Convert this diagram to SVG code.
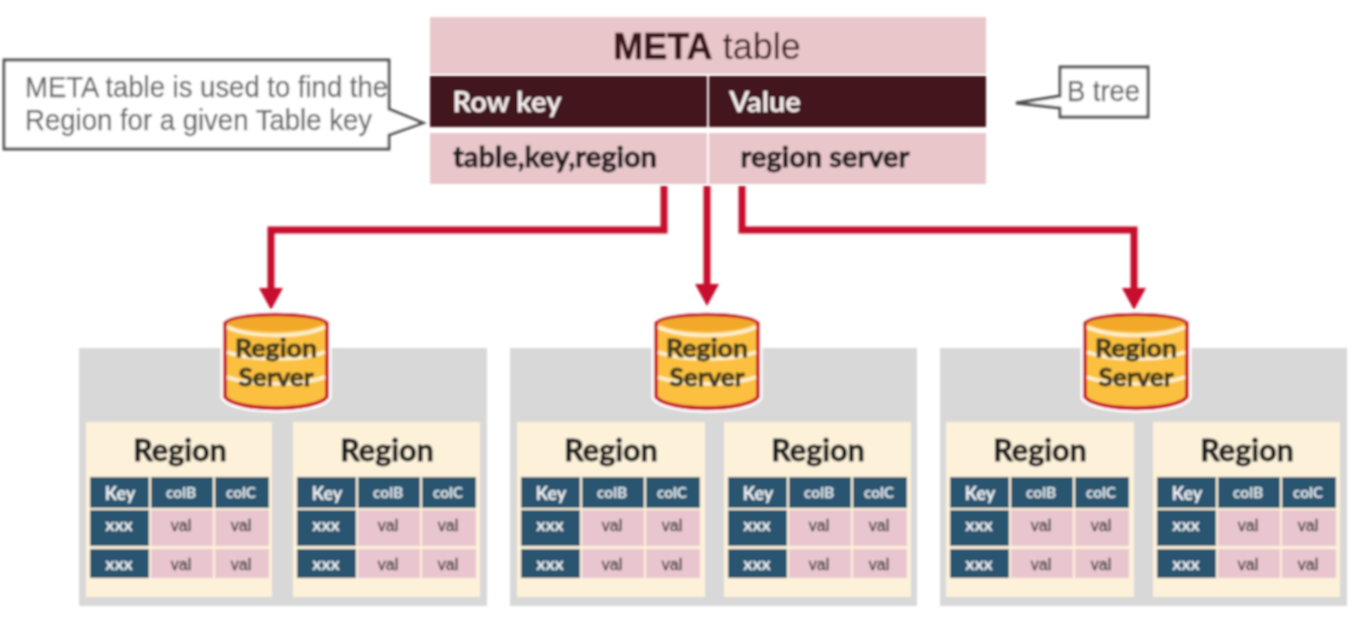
<svg xmlns="http://www.w3.org/2000/svg" width="1354" height="626" viewBox="0 0 1354 626">
<style>
text{text-anchor:middle}
.l{font-family:"Lato","Liberation Sans",sans-serif;font-weight:700}
.a{font-family:"Liberation Sans",Arial,sans-serif}
.rt{font-size:30.5px;fill:#1c1c1c;stroke:#1c1c1c;stroke-width:.8}
.k{font-size:18px;fill:#f4f7f9}
.h{font-size:15.5px;fill:#e2eaef}
.x{font-size:17.5px;fill:#eef3f6}
.v{font-family:"Liberation Sans",Arial,sans-serif;font-size:16px;fill:#3a3a3a;stroke:#3a3a3a;stroke-width:.3}
.d{fill:#2b5570}
.p{fill:#e9c6cf}
.cluster{fill:#d8d8d8}
.region{fill:#fdf2d9}
.call{fill:#fff;stroke:#4e4e4e;stroke-width:2.8}
.calltext{font-size:29px;fill:#666;stroke:#666;stroke-width:.25;text-anchor:start}
.halo{fill:#fff;stroke:#fff;stroke-width:9}
.cylb{fill:#fcc040;stroke:#c8102e;stroke-width:3.8}
.cap{fill:#f2a92c}
.band{fill:none;stroke:#fff0cc;stroke-width:3.6}
.cyt{font-size:24px;fill:#3f3a20;stroke:#3f3a20;stroke-width:.8}
.conn{fill:none;stroke:#c8102e;stroke-width:7}
.mh{fill:#42171d}
.mp{fill:#e8c6c9}
.dk{fill:#211a1c;stroke:#211a1c;stroke-width:.8}
</style>
<defs>
<filter id="soft" x="-2%" y="-2%" width="104%" height="104%"><feGaussianBlur stdDeviation="0.85"/></filter>
<marker id="ah" markerUnits="userSpaceOnUse" markerWidth="26" markerHeight="24" refX="3" refY="12" orient="auto"><path d="M0 0L22 12L0 24Z" fill="#c8102e"/></marker>
</defs>
<g filter="url(#soft)">
<g id="clusters">
<rect class="cluster" x="79" y="348" width="408" height="258"/>
<rect class="cluster" x="510" y="348" width="407" height="258"/>
<rect class="cluster" x="940" y="348" width="407" height="258"/>
</g>
<g id="connectors">
<path class="conn" d="M664 186V230H271V291" marker-end="url(#ah)"/>
<path class="conn" d="M707 186V287" marker-end="url(#ah)"/>
<path class="conn" d="M742 186V230H1134V291" marker-end="url(#ah)"/>
</g>
<g id="meta-table">
<rect class="mp" x="430" y="17" width="556" height="57"/>
<rect class="mh" x="430" y="76" width="277" height="51"/>
<rect class="mh" x="709" y="76" width="277" height="51"/>
<rect class="mp" x="430" y="133" width="277" height="51"/>
<rect class="mp" x="709" y="133" width="277" height="51"/>
<text class="a" x="707" y="59" font-size="36" fill="#3a1218"><tspan font-weight="700" stroke="#3a1218" stroke-width=".6">META</tspan> table</text>
<text class="l" x="507" y="112" font-size="29" fill="#f6eeee">Row key</text>
<text class="l" x="765" y="112" font-size="29" fill="#f6eeee">Value</text>
<text class="l dk" x="555" y="167" font-size="29">table,key,region</text>
<text class="l dk" x="825" y="167" font-size="29">region server</text>
</g>
<g id="note-meta">
<path class="call" d="M4 60H389V109L423 123L389 135V149H4Z"/>
<text class="a calltext" x="25" y="97" textLength="363" lengthAdjust="spacingAndGlyphs">META table is used to find the</text>
<text class="a calltext" x="25" y="130" textLength="347" lengthAdjust="spacingAndGlyphs">Region for a given Table key</text>
</g>
<g id="note-btree">
<path class="call" d="M1060 67H1148V117H1060V108L1016 103L1060 96Z"/>
<text class="a calltext" x="1067" y="101" textLength="73" lengthAdjust="spacingAndGlyphs">B tree</text>
</g>

<g id="server-1" transform="translate(276 0)">
<path class="halo" d="M-51 323C-40 312 40 312 51 323V397C40 412 -40 412 -51 397Z"/>
<path class="cylb" d="M-51 323C-40 312 40 312 51 323V397C40 412 -40 412 -51 397Z"/>
<path class="cap" d="M-49 323C-38 314 38 314 49 323C38 334 -38 334 -49 323Z"/>
<path class="band" d="M-49 327C-25 338 25 338 49 327M-49 352C-25 361 25 361 49 352M-49 377C-25 386 25 386 49 377"/>
<text class="l cyt" x="0" y="357" textLength="82" lengthAdjust="spacingAndGlyphs">Region</text><text class="l cyt" x="0" y="386" textLength="75" lengthAdjust="spacingAndGlyphs">Server</text>
</g>
<g id="server-2" transform="translate(707 0)">
<path class="halo" d="M-51 323C-40 312 40 312 51 323V397C40 412 -40 412 -51 397Z"/>
<path class="cylb" d="M-51 323C-40 312 40 312 51 323V397C40 412 -40 412 -51 397Z"/>
<path class="cap" d="M-49 323C-38 314 38 314 49 323C38 334 -38 334 -49 323Z"/>
<path class="band" d="M-49 327C-25 338 25 338 49 327M-49 352C-25 361 25 361 49 352M-49 377C-25 386 25 386 49 377"/>
<text class="l cyt" x="0" y="357" textLength="82" lengthAdjust="spacingAndGlyphs">Region</text><text class="l cyt" x="0" y="386" textLength="75" lengthAdjust="spacingAndGlyphs">Server</text>
</g>
<g id="server-3" transform="translate(1136 0)">
<path class="halo" d="M-51 323C-40 312 40 312 51 323V397C40 412 -40 412 -51 397Z"/>
<path class="cylb" d="M-51 323C-40 312 40 312 51 323V397C40 412 -40 412 -51 397Z"/>
<path class="cap" d="M-49 323C-38 314 38 314 49 323C38 334 -38 334 -49 323Z"/>
<path class="band" d="M-49 327C-25 338 25 338 49 327M-49 352C-25 361 25 361 49 352M-49 377C-25 386 25 386 49 377"/>
<text class="l cyt" x="0" y="357" textLength="82" lengthAdjust="spacingAndGlyphs">Region</text><text class="l cyt" x="0" y="386" textLength="75" lengthAdjust="spacingAndGlyphs">Server</text>
</g>

<g id="region-1" transform="translate(0 0)">
<rect class="region" x="86" y="422" width="186" height="175"/>
<text class="l rt" x="180" y="461">Region</text>
<rect class="d" x="90" y="477" width="59" height="31"/><rect class="d" x="151" y="477" width="62" height="31"/><rect class="d" x="215" y="477" width="54" height="31"/>
<rect class="d" x="90" y="510" width="59" height="36"/><rect class="p" x="151" y="510" width="62" height="36"/><rect class="p" x="215" y="510" width="54" height="36"/>
<rect class="d" x="90" y="549" width="59" height="29"/><rect class="p" x="151" y="549" width="62" height="29"/><rect class="p" x="215" y="549" width="54" height="29"/>
<text class="l k" x="120" y="500">Key</text><text class="l h" x="181" y="498">colB</text><text class="l h" x="241" y="498">colC</text>
<text class="l x" x="119" y="531">xxx</text><text class="v" x="181" y="531">val</text><text class="v" x="241" y="531">val</text>
<text class="l x" x="119" y="570">xxx</text><text class="v" x="181" y="570">val</text><text class="v" x="241" y="570">val</text>
</g>
<g id="region-2" transform="translate(207 0)">
<rect class="region" x="86" y="422" width="187" height="175"/>
<text class="l rt" x="180" y="461">Region</text>
<rect class="d" x="90" y="477" width="59" height="31"/><rect class="d" x="151" y="477" width="62" height="31"/><rect class="d" x="215" y="477" width="54" height="31"/>
<rect class="d" x="90" y="510" width="59" height="36"/><rect class="p" x="151" y="510" width="62" height="36"/><rect class="p" x="215" y="510" width="54" height="36"/>
<rect class="d" x="90" y="549" width="59" height="29"/><rect class="p" x="151" y="549" width="62" height="29"/><rect class="p" x="215" y="549" width="54" height="29"/>
<text class="l k" x="120" y="500">Key</text><text class="l h" x="181" y="498">colB</text><text class="l h" x="241" y="498">colC</text>
<text class="l x" x="119" y="531">xxx</text><text class="v" x="181" y="531">val</text><text class="v" x="241" y="531">val</text>
<text class="l x" x="119" y="570">xxx</text><text class="v" x="181" y="570">val</text><text class="v" x="241" y="570">val</text>
</g>
<g id="region-3" transform="translate(431 0)">
<rect class="region" x="86" y="422" width="188" height="175"/>
<text class="l rt" x="180" y="461">Region</text>
<rect class="d" x="90" y="477" width="59" height="31"/><rect class="d" x="151" y="477" width="62" height="31"/><rect class="d" x="215" y="477" width="54" height="31"/>
<rect class="d" x="90" y="510" width="59" height="36"/><rect class="p" x="151" y="510" width="62" height="36"/><rect class="p" x="215" y="510" width="54" height="36"/>
<rect class="d" x="90" y="549" width="59" height="29"/><rect class="p" x="151" y="549" width="62" height="29"/><rect class="p" x="215" y="549" width="54" height="29"/>
<text class="l k" x="120" y="500">Key</text><text class="l h" x="181" y="498">colB</text><text class="l h" x="241" y="498">colC</text>
<text class="l x" x="119" y="531">xxx</text><text class="v" x="181" y="531">val</text><text class="v" x="241" y="531">val</text>
<text class="l x" x="119" y="570">xxx</text><text class="v" x="181" y="570">val</text><text class="v" x="241" y="570">val</text>
</g>
<g id="region-4" transform="translate(638 0)">
<rect class="region" x="86" y="422" width="187" height="175"/>
<text class="l rt" x="180" y="461">Region</text>
<rect class="d" x="90" y="477" width="59" height="31"/><rect class="d" x="151" y="477" width="62" height="31"/><rect class="d" x="215" y="477" width="54" height="31"/>
<rect class="d" x="90" y="510" width="59" height="36"/><rect class="p" x="151" y="510" width="62" height="36"/><rect class="p" x="215" y="510" width="54" height="36"/>
<rect class="d" x="90" y="549" width="59" height="29"/><rect class="p" x="151" y="549" width="62" height="29"/><rect class="p" x="215" y="549" width="54" height="29"/>
<text class="l k" x="120" y="500">Key</text><text class="l h" x="181" y="498">colB</text><text class="l h" x="241" y="498">colC</text>
<text class="l x" x="119" y="531">xxx</text><text class="v" x="181" y="531">val</text><text class="v" x="241" y="531">val</text>
<text class="l x" x="119" y="570">xxx</text><text class="v" x="181" y="570">val</text><text class="v" x="241" y="570">val</text>
</g>
<g id="region-5" transform="translate(860 0)">
<rect class="region" x="86" y="422" width="188" height="175"/>
<text class="l rt" x="180" y="461">Region</text>
<rect class="d" x="90" y="477" width="59" height="31"/><rect class="d" x="151" y="477" width="62" height="31"/><rect class="d" x="215" y="477" width="54" height="31"/>
<rect class="d" x="90" y="510" width="59" height="36"/><rect class="p" x="151" y="510" width="62" height="36"/><rect class="p" x="215" y="510" width="54" height="36"/>
<rect class="d" x="90" y="549" width="59" height="29"/><rect class="p" x="151" y="549" width="62" height="29"/><rect class="p" x="215" y="549" width="54" height="29"/>
<text class="l k" x="120" y="500">Key</text><text class="l h" x="181" y="498">colB</text><text class="l h" x="241" y="498">colC</text>
<text class="l x" x="119" y="531">xxx</text><text class="v" x="181" y="531">val</text><text class="v" x="241" y="531">val</text>
<text class="l x" x="119" y="570">xxx</text><text class="v" x="181" y="570">val</text><text class="v" x="241" y="570">val</text>
</g>
<g id="region-6" transform="translate(1067 0)">
<rect class="region" x="86" y="422" width="187" height="175"/>
<text class="l rt" x="180" y="461">Region</text>
<rect class="d" x="90" y="477" width="59" height="31"/><rect class="d" x="151" y="477" width="62" height="31"/><rect class="d" x="215" y="477" width="54" height="31"/>
<rect class="d" x="90" y="510" width="59" height="36"/><rect class="p" x="151" y="510" width="62" height="36"/><rect class="p" x="215" y="510" width="54" height="36"/>
<rect class="d" x="90" y="549" width="59" height="29"/><rect class="p" x="151" y="549" width="62" height="29"/><rect class="p" x="215" y="549" width="54" height="29"/>
<text class="l k" x="120" y="500">Key</text><text class="l h" x="181" y="498">colB</text><text class="l h" x="241" y="498">colC</text>
<text class="l x" x="119" y="531">xxx</text><text class="v" x="181" y="531">val</text><text class="v" x="241" y="531">val</text>
<text class="l x" x="119" y="570">xxx</text><text class="v" x="181" y="570">val</text><text class="v" x="241" y="570">val</text>
</g>
</g>
</svg>
